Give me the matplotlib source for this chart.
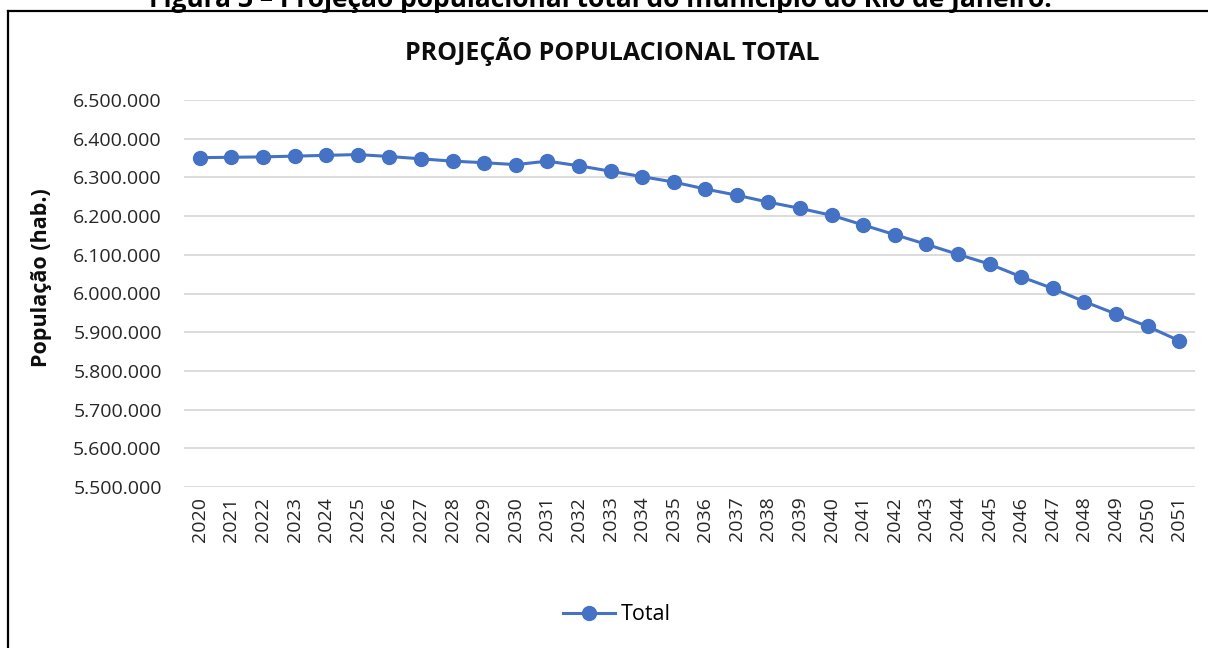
import numpy as np
import matplotlib
matplotlib.use('Agg')
import matplotlib.pyplot as plt
from matplotlib.ticker import FuncFormatter
from matplotlib.lines import Line2D

plt.rcParams['font.family'] = ['Open Sans', 'DejaVu Sans']

# Data
years = [str(y) for y in range(2020, 2052)]
total = [6351000, 6352000, 6353000, 6355000, 6357000, 6359000, 6354000, 6348000,
         6342000, 6338000, 6333000, 6342000, 6330000, 6316000, 6302000, 6288000,
         6270000, 6254000, 6236000, 6220000, 6202000, 6177000, 6152000, 6127000,
         6101000, 6076000, 6043000, 6013000, 5979000, 5947000, 5915000, 5878000]
y_ticks = [5500000, 5600000, 5700000, 5800000, 5900000, 6000000,
           6100000, 6200000, 6300000, 6400000, 6500000]

blue = '#4472C4'

fig = plt.figure(figsize=(12.08, 6.48), dpi=100)
ax = fig.add_axes([184/1208, 1 - 487/648, (1195 - 184)/1208, (487 - 100)/648])

x = np.arange(len(years))
ax.plot(x, total, color=blue, lw=2.2, marker='o', ms=10, label='Total', zorder=3)

ax.set_xlim(-0.5, len(years) - 0.5)
ax.set_ylim(5500000, 6500000)
ax.set_yticks(y_ticks)
ax.yaxis.set_major_formatter(FuncFormatter(lambda v, p: format(int(v), ',').replace(',', '.')))
ax.set_xticks(x)
ax.set_xticklabels(years, rotation=90, fontsize=14, color='#262626')
ax.tick_params(axis='y', labelsize=14, colors='#262626', length=0, pad=16)
ax.tick_params(axis='x', length=0, pad=7)
ax.grid(axis='y', color='#D9D9D9', lw=1.3)
ax.set_axisbelow(True)
for s in ax.spines.values():
    s.set_visible(False)

fig.text(612/1208, 1 - 52/648, 'PROJEÇÃO POPULACIONAL TOTAL', ha='center', va='center',
         fontsize=18, fontweight='bold', color='#0d0d0d')
fig.text(42/1208, 1 - 278/648, 'População (hab.)', rotation=90, ha='center', va='center',
         fontsize=15.5, fontweight='bold', color='#0d0d0d')

# caption cut at the top of the page
fig.text(600/1208, 1 - 7/648, 'Figura 3 – Projeção populacional total do município do Rio de Janeiro.',
         ha='center', va='baseline', fontsize=19, fontweight='bold', color='black')

# frame around the chart (only top and left visible)
fig.add_artist(Line2D([8/1208, 1.01], [1 - 11/648, 1 - 11/648], color='black', lw=1.6,
                      transform=fig.transFigure))
fig.add_artist(Line2D([8/1208, 8/1208], [1 - 11/648, -0.01], color='black', lw=1.6,
                      transform=fig.transFigure))

fig.legend(handles=[Line2D([], [], color=blue, lw=2.2, marker='o', ms=10)], labels=['Total'],
           loc='center', bbox_to_anchor=(617/1208, 1 - 615/648), frameon=False,
           fontsize=15.5, handlelength=2.4, handletextpad=0.3)

fig.savefig('out.png', dpi=100)
